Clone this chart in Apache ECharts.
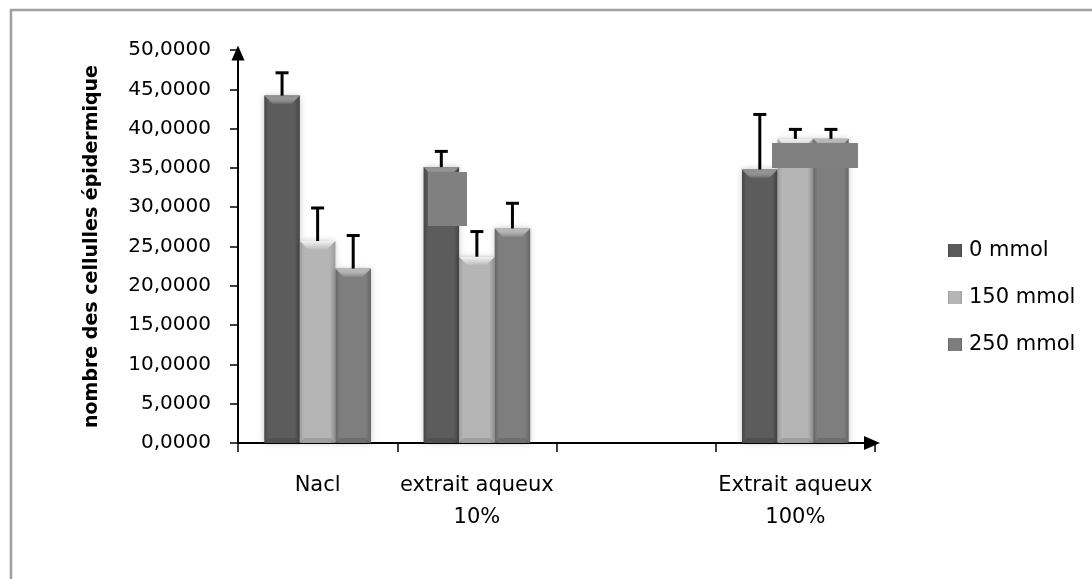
<!DOCTYPE html>
<html>
<head>
<meta charset="utf-8">
<script src="https://cdn.jsdelivr.net/npm/echarts@6/dist/echarts.min.js"></script>
<style>
html,body{margin:0;padding:0;background:#fff;}
#chart{width:1092px;height:579px;}
</style>
</head>
<body>
<div id="chart"></div>
<script>
// ---- data ----
var categories = ['Nacl', 'extrait aqueux\n10%', '', 'Extrait aqueux\n100%'];
var seriesNames = ['0 mmol', '150 mmol', '250 mmol'];
var values0 = [44.2, 35.1, null, 34.8];
var values150 = [25.7, 23.7, null, 38.7];
var values250 = [22.2, 27.3, null, 38.7];
var errors0 = [2.9, 2.0, null, 7.0];
var errors150 = [4.2, 3.2, null, 1.2];
var errors250 = [4.2, 3.2, null, 1.2];
var yTicks = [0, 5, 10, 15, 20, 25, 30, 35, 40, 45, 50];
var yTitle = 'nombre des cellulles épidermique';

var FONT = 'DejaVu Sans';
var chart = echarts.init(document.getElementById('chart'), null, {renderer: 'canvas'});

function hGrad(edge, mid) {
  return new echarts.graphic.LinearGradient(0, 0, 1, 0, [
    {offset: 0, color: edge},
    {offset: 0.12, color: mid},
    {offset: 0.85, color: mid},
    {offset: 1, color: edge}
  ]);
}
var barColors = [
  hGrad('#454545', '#5c5c5c'),
  hGrad('#9c9c9c', '#b5b5b5'),
  hGrad('#666666', '#7e7e7e')
];
var bevelColors = ['#8a8a8a', '#f2f2f2', '#b8b8b8'];
var allValues = [values0, values150, values250];
var allErrors = [errors0, errors150, errors250];

var BAR_CAT_GAP = 0.33;

function makeErrSeries(idx) {
  var data = categories.map(function (c, i) {
    return allValues[idx][i] == null ? [i, null, null] : [i, allValues[idx][i], allErrors[idx][i]];
  });
  return {
    type: 'custom',
    name: seriesNames[idx] + ' err',
    data: data,
    z: 5,
    silent: true,
    encode: {x: 0, y: 1},
    renderItem: function (params, api) {
      var v = api.value(1);
      if (v == null || isNaN(v)) return null;
      var e = api.value(2);
      var cat = api.value(0);
      var band = api.size([1, 0])[0];
      var bw = band * (1 - BAR_CAT_GAP) / 3;
      var center = api.coord([cat, v]);
      var cx = center[0] + (idx - 1) * bw;
      var top = center[1];
      var bottom = api.coord([cat, 0])[1];
      var errTop = api.coord([cat, v + e])[1];
      var x0 = cx - bw / 2, x1 = cx + bw / 2;
      var bev = 9;
      return {
        type: 'group',
        children: [
          {
            type: 'polygon',
            shape: {points: [[x0, top], [x1, top], [x1 - bev, top + bev], [x0 + bev, top + bev]]},
            style: {
              fill: new echarts.graphic.LinearGradient(0, 0, 0, 1, [
                {offset: 0, color: bevelColors[idx]},
                {offset: 1, color: 'rgba(255,255,255,0)'}
              ])
            }
          },
          {
            type: 'polygon',
            shape: {points: [[x0, bottom], [x1, bottom], [x1 - 5, bottom - 5], [x0 + 5, bottom - 5]]},
            style: {fill: 'rgba(0,0,0,0.12)'}
          },
          {
            type: 'line',
            shape: {x1: cx, y1: top, x2: cx, y2: errTop},
            style: {stroke: '#000', lineWidth: 3}
          },
          {
            type: 'line',
            shape: {x1: cx - 6.5, y1: errTop, x2: cx + 6.5, y2: errTop},
            style: {stroke: '#000', lineWidth: 3}
          }
        ]
      };
    }
  };
}

var barSeries = seriesNames.map(function (n, idx) {
  return {
    type: 'bar',
    name: n,
    data: allValues[idx],
    barGap: '0%',
    barCategoryGap: (BAR_CAT_GAP * 100) + '%',
    itemStyle: {
      color: barColors[idx],
      shadowBlur: 6,
      shadowColor: 'rgba(0,0,0,0.22)'
    }
  };
});

var option = {
  backgroundColor: '#fff',
  animation: false,
  textStyle: {fontFamily: FONT, color: '#000'},
  grid: {left: 238, right: 217, top: 50, bottom: 136, containLabel: false},
  legend: {
    orient: 'vertical',
    left: 948,
    top: 240,
    padding: 0,
    itemWidth: 14,
    itemHeight: 13,
    itemGap: 26,
    icon: 'rect',
    data: seriesNames,
    textStyle: {fontFamily: FONT, fontSize: 21, color: '#000', lineHeight: 21, padding: [0, 0, 0, 2]}
  },
  xAxis: {
    type: 'category',
    data: categories,
    axisLine: {
      lineStyle: {color: '#000', width: 2},
      symbol: ['none', 'triangle'],
      symbolSize: [14, 16],
      symbolOffset: [0, -3]
    },
    axisTick: {show: true, length: 9, lineStyle: {color: '#000', width: 1.5}},
    axisLabel: {
      margin: 27,
      fontFamily: FONT,
      fontSize: 21,
      lineHeight: 32,
      color: '#000',
      interval: 0
    },
    splitLine: {show: false}
  },
  yAxis: {
    type: 'value',
    min: yTicks[0],
    max: yTicks[yTicks.length - 1],
    interval: yTicks[1] - yTicks[0],
    name: yTitle,
    nameLocation: 'middle',
    nameGap: 136,
    nameTextStyle: {fontFamily: FONT, fontSize: 19, fontWeight: 'bold', color: '#000'},
    axisLine: {
      show: true,
      lineStyle: {color: '#000', width: 2},
      symbol: ['none', 'triangle'],
      symbolSize: [13, 15],
      symbolOffset: [0, -3]
    },
    axisTick: {show: true, length: 8, lineStyle: {color: '#000', width: 1.5}},
    axisLabel: {
      margin: 27,
      fontFamily: FONT,
      fontSize: 20,
      color: '#000',
      formatter: function (v) { return v.toFixed(4).replace('.', ','); }
    },
    splitLine: {show: false}
  },
  series: barSeries.concat([makeErrSeries(0), makeErrSeries(1), makeErrSeries(2)]),
  graphic: [
    {type: 'line', shape: {x1: 10, y1: 10, x2: 1092, y2: 10}, style: {stroke: '#a0a0a0', lineWidth: 2.5}, z: 100},
    {type: 'line', shape: {x1: 11, y1: 9, x2: 11, y2: 579}, style: {stroke: '#a0a0a0', lineWidth: 2.5}, z: 100},
    {type: 'rect', shape: {x: 428, y: 172, width: 39, height: 54}, style: {fill: '#808080'}, z: 100},
    {type: 'rect', shape: {x: 772, y: 143, width: 86, height: 25}, style: {fill: '#808080'}, z: 100}
  ]
};
chart.setOption(option);
</script>
</body>
</html>
